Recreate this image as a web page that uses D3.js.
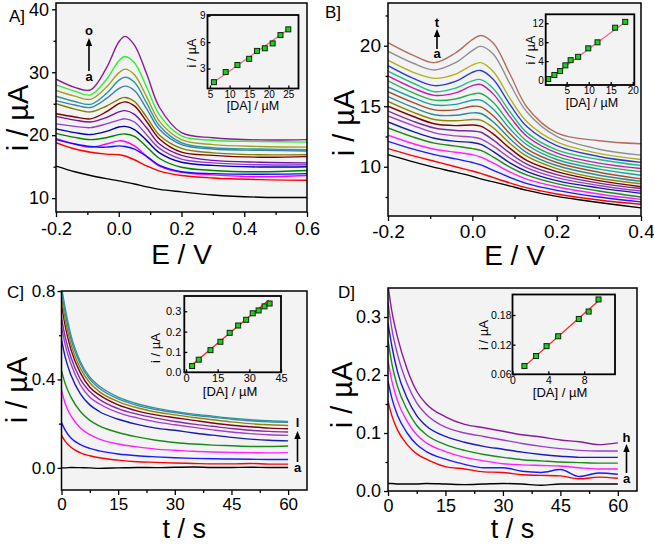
<!DOCTYPE html>
<html><head><meta charset="utf-8">
<script src="https://cdn.jsdelivr.net/npm/d3@7"></script>
<style>body{margin:0;background:#fff}svg{display:block}text{font-family:"Liberation Sans",Arial,sans-serif}</style>
</head><body><svg id="c" width="654" height="545"></svg>
<script>
// ---------------- Panel A (DPV) ----------------
const aPotential = [-0.2,-0.14,-0.09,-0.04,0.0,0.02,0.05,0.09,0.13,0.2,0.3,0.45,0.6];
const aColors = ['#000000','#ff0000','#ff00ff','#1010ff','#008000','#0000b0','#9040d0','#7a10a0','#800000','#808000','#3f7fb0','#2a9a9a','#a0a020','#30f030','#8a1a9a'];
const aCurrents = [
  [15.1,14.2,13.6,13.1,12.75,12.55,12.25,11.8,11.4,11.0,10.5,10.15,10.1],
  [18.8,17.8,17.3,17.0,16.9,16.7,16.1,15.1,14.3,13.6,13.2,12.95,12.85],
  [19.5,18.6,18.1,18.6,19.1,19.0,18.3,16.6,15.1,14.1,13.7,13.4,13.6],
  [19.3,18.6,18.2,18.1,18.3,18.2,17.8,16.6,15.2,14.2,13.9,13.8,13.9],
  [20.3,19.65,19.3,19.6,20.1,20.2,19.8,18.1,16.3,14.9,14.4,14.2,14.4],
  [21.0,20.4,20.1,20.6,21.3,21.4,20.9,19.1,17.2,15.7,15.2,14.95,15.0],
  [21.8,21.4,21.2,21.8,22.4,22.6,22.1,20.0,17.9,16.2,15.6,15.3,15.3],
  [23.0,22.4,22.1,22.8,23.7,23.9,23.3,21.1,18.6,16.8,16.0,15.7,15.6],
  [23.4,22.9,22.6,23.7,25.0,25.3,24.65,22.1,19.4,17.3,16.8,16.5,16.6],
  [25.0,24.15,23.7,24.6,25.7,26.0,25.35,22.8,20.0,17.9,17.2,16.9,16.9],
  [25.5,24.8,24.4,25.8,27.4,27.8,27.1,24.1,20.9,18.5,17.8,17.6,17.5],
  [26.2,25.35,24.9,26.6,28.7,29.2,28.4,25.0,21.5,18.8,18.0,17.8,17.7],
  [27.1,26.2,25.7,27.6,29.9,30.5,29.6,26.0,22.2,19.3,18.5,18.2,18.1],
  [28.0,27.0,26.4,28.8,31.8,32.5,31.5,27.5,23.2,19.9,19.2,19.0,18.9],
  [28.9,27.6,27.2,30.6,34.8,35.7,34.3,29.6,24.4,20.4,19.6,19.25,19.3]
];
const aTicksX = [-0.2,0,0.2,0.4,0.6], aMinorX = [-0.1,0.1,0.3,0.5];
const aTicksY = [10,20,30,40], aMinorY = [15,25,35];
const aInsetConc = [6,9,12,15,17,19,21,23,25];
const aInsetI = [1.45,2.6,3.4,4.1,5.0,5.3,5.85,6.8,7.45];
const aFitConc = [5.6,25.4], aFitI = [1.32,7.58];
const aInsetTicksX = [5,10,15,20,25], aInsetTicksY = [3,6,9];

// ---------------- Panel B (DPV) ----------------
const bPotential = [-0.2,-0.14,-0.09,-0.04,0.0,0.02,0.05,0.09,0.13,0.2,0.3,0.4];
const bColors = ['#000000','#ff0000','#1a1aff','#ff20ff','#1a8a1a','#1a1aa0','#a040c8','#7a2a9a','#800000','#8a8a00','#2a8a9a','#a0502a','#1aa0a0','#20b050','#c020b0','#20c080','#2a40d0','#b0b020','#909090','#b07060'];
const bCurrents = [
  [11.0,10.4,9.95,9.55,9.2,9.0,8.75,8.4,8.05,7.55,7.05,6.6],
  [11.5,10.9,10.45,10.0,9.65,9.45,9.1,8.65,8.25,7.75,7.25,6.9],
  [12.1,11.45,11.0,10.65,10.35,10.15,9.7,9.1,8.6,8.05,7.5,7.1],
  [12.6,11.9,11.45,11.2,11.0,10.8,10.3,9.55,8.95,8.35,7.75,7.3],
  [13.2,12.45,11.95,11.7,11.5,11.35,10.8,9.95,9.3,8.6,8.0,7.5],
  [13.7,12.9,12.35,12.1,12.0,11.85,11.25,10.3,9.6,8.85,8.25,7.8],
  [14.2,13.4,12.8,12.55,12.45,12.3,11.7,10.7,9.9,9.1,8.45,8.0],
  [14.6,13.75,13.2,13.0,12.95,12.85,12.2,11.1,10.2,9.35,8.65,8.2],
  [15.0,14.15,13.55,13.4,13.45,13.35,12.7,11.5,10.5,9.6,8.85,8.35],
  [15.4,14.5,13.9,13.8,13.9,13.85,13.2,11.9,10.85,9.85,9.05,8.6],
  [15.8,14.9,14.3,14.25,14.45,14.4,13.7,12.3,11.15,10.1,9.3,8.8],
  [16.2,15.3,14.7,14.7,15.0,14.95,14.2,12.7,11.45,10.35,9.55,9.0],
  [16.6,15.7,15.1,15.15,15.5,15.5,14.75,13.1,11.8,10.6,9.8,9.3],
  [17.1,16.1,15.5,15.6,16.0,16.05,15.3,13.55,12.1,10.85,10.05,9.6],
  [17.5,16.5,15.9,16.1,16.7,16.8,16.0,14.1,12.5,11.15,10.3,9.86],
  [17.9,16.9,16.2,16.5,17.1,17.2,16.45,14.5,12.8,11.4,10.6,10.1],
  [18.35,17.3,16.7,17.05,17.8,17.95,17.2,15.1,13.3,11.75,10.85,10.36],
  [18.8,17.8,17.3,17.65,18.4,18.6,17.85,15.6,13.7,12.05,11.1,10.6],
  [19.55,18.55,18.0,18.6,19.6,19.95,19.3,16.8,14.5,12.5,11.45,10.96],
  [20.25,19.2,18.6,19.4,20.5,20.85,20.2,17.6,14.9,12.8,12.15,11.9]
];
const bTicksX = [-0.2,0,0.2,0.4], bMinorX = [-0.1,0.1,0.3];
const bTicksY = [10,15,20], bMinorY = [7.5,12.5,17.5,22.5];
const bInsetConc = [0.8,2.2,3.5,4.7,5.9,7.6,9.9,12,16,18.3];
const bInsetI = [0.2,1.06,1.9,3.1,4.2,4.9,6.7,7.97,11.06,12.3];
const bFitConc = [0.5,18.6], bFitI = [0.0,12.5];
const bInsetTicksX = [5,10,15,20], bInsetTicksY = [0,4,8,12];

// ---------------- Panel C (amperometry) ----------------
const cTime = [0,1,2.5,5,7.5,10,15,20,25,30,35,40,45,50,55,60];
const cColors = ['#000000','#ff0000','#1a1aff','#ff20ff','#1a8a1a','#1a1ab0','#a040d0','#8a2aa0','#800020','#8a8a00','#4a80b0','#2a9a9a'];
const cCurrents = [
  [0.0,0.0,0.002,0.001,0.0,-0.002,0.0,0.002,0.001,0.003,0.004,0.002,0.002,0.003,0.002,0.002],
  [0.147,0.12,0.093,0.068,0.055,0.046,0.035,0.028,0.025,0.022,0.02,0.018,0.018,0.02,0.017,0.017],
  [0.205,0.17,0.135,0.105,0.088,0.077,0.063,0.055,0.05,0.046,0.043,0.041,0.04,0.039,0.038,0.038],
  [0.35,0.29,0.235,0.18,0.15,0.13,0.108,0.095,0.085,0.08,0.075,0.072,0.07,0.069,0.068,0.069],
  [0.44,0.38,0.32,0.255,0.215,0.19,0.16,0.14,0.125,0.115,0.108,0.103,0.1,0.097,0.097,0.099],
  [0.58,0.50,0.42,0.335,0.285,0.255,0.22,0.197,0.18,0.17,0.158,0.148,0.138,0.13,0.125,0.122],
  [0.64,0.555,0.47,0.375,0.32,0.29,0.25,0.226,0.208,0.195,0.183,0.172,0.162,0.155,0.15,0.147],
  [0.68,0.59,0.50,0.40,0.345,0.31,0.268,0.243,0.225,0.21,0.198,0.188,0.178,0.17,0.165,0.162],
  [0.74,0.64,0.535,0.43,0.365,0.33,0.285,0.258,0.24,0.227,0.215,0.203,0.193,0.186,0.18,0.177],
  [0.77,0.67,0.56,0.45,0.385,0.345,0.30,0.272,0.253,0.24,0.228,0.218,0.208,0.2,0.195,0.192],
  [0.80,0.70,0.585,0.47,0.40,0.36,0.312,0.283,0.264,0.25,0.238,0.229,0.22,0.213,0.208,0.206],
  [0.82,0.72,0.60,0.48,0.41,0.37,0.32,0.29,0.27,0.255,0.243,0.234,0.225,0.218,0.213,0.21]
];
const cTicksX = [0,15,30,45,60], cMinorX = [7.5,22.5,37.5,52.5];
const cTicksY = [0,0.4,0.8], cMinorY = [0.2,0.6];
const cInsetConc = [2.9,6.05,11.6,16.3,20.7,24.7,28.5,31.6,34.4,37.2,39.6];
const cInsetI = [0.031,0.062,0.109,0.15,0.194,0.23,0.258,0.29,0.304,0.324,0.338];
const cFitConc = [1.8,39.2], cFitI = [0.027,0.355];
const cInsetTicksX = [0,15,30,45], cInsetTicksY = [0,0.1,0.2,0.3];

// ---------------- Panel D (amperometry) ----------------
const dTime = [0,1,2.5,5,7.5,10,15,20,25,30,35,40,45,50,55,60];
const dColors = ['#000000','#ff0000','#1a1aff','#ff20ff','#1a8a1a','#1a1ac0','#9a40c8','#8a1a9a'];
const dCurrents = [
  [0.013,0.013,0.012,0.012,0.012,0.013,0.012,0.011,0.012,0.013,0.012,0.01,0.012,0.012,0.012,0.012],
  [0.155,0.13,0.105,0.08,0.064,0.055,0.042,0.038,0.033,0.032,0.028,0.027,0.026,0.021,0.024,0.022],
  [0.19,0.16,0.13,0.1,0.08,0.068,0.055,0.046,0.04,0.04,0.034,0.032,0.037,0.025,0.031,0.029],
  [0.225,0.19,0.155,0.12,0.097,0.083,0.068,0.058,0.052,0.047,0.045,0.044,0.043,0.04,0.038,0.038],
  [0.26,0.22,0.18,0.14,0.113,0.097,0.08,0.07,0.063,0.058,0.054,0.052,0.05,0.049,0.048,0.048],
  [0.29,0.25,0.205,0.16,0.13,0.112,0.094,0.084,0.077,0.072,0.067,0.063,0.06,0.058,0.058,0.058],
  [0.325,0.28,0.235,0.185,0.152,0.132,0.11,0.1,0.094,0.088,0.082,0.077,0.073,0.07,0.069,0.069],
  [0.355,0.31,0.265,0.21,0.172,0.15,0.128,0.115,0.109,0.103,0.097,0.093,0.088,0.085,0.08,0.083]
];
const dTicksX = [0,15,30,45,60], dMinorX = [7.5,22.5,37.5,52.5];
const dTicksY = [0,0.1,0.2,0.3], dMinorY = [0.05,0.15,0.25];
const dInsetConc = [1.33,2.63,3.8,5.1,7.4,8.5,9.6];
const dInsetI = [0.0768,0.097,0.117,0.137,0.172,0.187,0.2115];
const dFitConc = [1.2,9.8], dFitI = [0.074,0.212];
const dInsetTicksX = [0,4,8], dInsetTicksY = [0.06,0.12,0.18];

// ---------------- drawing ----------------
const svg = d3.select('#c');
const defs = svg.append('defs');
const BG = '#f3f3f3';

function styleAxis(sel, fs) {
  sel.select('.domain').remove();
  sel.selectAll('.tick line').attr('stroke','#000').attr('stroke-width',1.3);
  sel.selectAll('.tick text').attr('fill','#000').style('font-size',fs+'px')
     .style('font-family','"Liberation Sans", Arial, sans-serif');
}

function mainPanel(p) {
  const x = d3.scaleLinear().domain(p.xd).range([p.L, p.R]);
  const y = d3.scaleLinear().domain(p.yd).range([p.B, p.T]);
  const g = svg.append('g');
  g.append('rect').attr('x',p.L).attr('y',p.T).attr('width',p.R-p.L).attr('height',p.B-p.T).attr('fill',BG);
  const cid = 'clip' + p.id;
  defs.append('clipPath').attr('id',cid).append('rect')
    .attr('x',p.L).attr('y',p.T).attr('width',p.R-p.L).attr('height',p.B-p.T);
  const line = d3.line().x((d,i)=>x(p.xs[i])).y(d=>y(d)).curve(p.curve);
  const cg = g.append('g').attr('clip-path',`url(#${cid})`);
  p.series.forEach((s,k)=>cg.append('path').attr('d',line(s)).attr('fill','none')
     .attr('stroke',p.colors[k]).attr('stroke-width',1.4));
  const ax = g.append('g').attr('transform',`translate(0,${p.B})`)
     .call(d3.axisBottom(x).tickValues(p.xt).tickFormat(p.xf).tickSizeInner(5).tickSizeOuter(0).tickPadding(p.xpad));
  styleAxis(ax, p.fs);
  const axm = g.append('g').attr('transform',`translate(0,${p.B})`)
     .call(d3.axisBottom(x).tickValues(p.xm).tickFormat('').tickSizeInner(3).tickSizeOuter(0));
  styleAxis(axm, p.fs);
  const ay = g.append('g').attr('transform',`translate(${p.L},0)`)
     .call(d3.axisLeft(y).tickValues(p.yt).tickFormat(p.yf).tickSizeInner(4).tickSizeOuter(0).tickPadding(p.ypad));
  styleAxis(ay, p.fs);
  const aym = g.append('g').attr('transform',`translate(${p.L},0)`)
     .call(d3.axisLeft(y).tickValues(p.ym).tickFormat('').tickSizeInner(2.5).tickSizeOuter(0));
  styleAxis(aym, p.fs);
  g.append('rect').attr('x',p.L).attr('y',p.T).attr('width',p.R-p.L).attr('height',p.B-p.T)
    .attr('fill','none').attr('stroke','#000').attr('stroke-width',1.5);
  g.append('text').attr('x',(p.L+p.R)/2).attr('y',p.xtY).attr('text-anchor','middle')
    .style('font-size',p.tfs+'px').text(p.xTitle);
  g.append('text').attr('transform',`translate(${p.ytX},${p.ytY}) rotate(-90)`).attr('text-anchor','middle')
    .style('font-size',p.yfs+'px').text('i / µA');
  g.append('text').attr('x',p.lx).attr('y',p.ly).style('font-size','17px').text(p.label);
  const ar = p.arrow;
  g.append('line').attr('x1',ar.x).attr('x2',ar.x).attr('y1',ar.y2).attr('y2',ar.y1+5)
    .attr('stroke','#000').attr('stroke-width',1.6);
  g.append('path').attr('d',`M${ar.x},${ar.y1} L${ar.x-3.2},${ar.y1+8} L${ar.x+3.2},${ar.y1+8} Z`).attr('fill','#000');
  g.append('text').attr('x',ar.x).attr('y',ar.topY).attr('text-anchor','middle')
    .style('font-size','13px').style('font-weight','bold').text(ar.top);
  g.append('text').attr('x',ar.x).attr('y',ar.botY).attr('text-anchor','middle')
    .style('font-size','13px').style('font-weight','bold').text('a');
}

function inset(p) {
  const x = d3.scaleLinear().domain(p.xd).range([p.L, p.R]);
  const y = d3.scaleLinear().domain(p.yd).range([p.B, p.T]);
  const g = svg.append('g');
  g.append('rect').attr('x',p.L).attr('y',p.T).attr('width',p.R-p.L).attr('height',p.B-p.T).attr('fill',BG);
  const ax = g.append('g').attr('transform',`translate(0,${p.B})`)
     .call(d3.axisBottom(x).tickValues(p.xt).tickFormat(d3.format('d')).tickSizeInner(-3).tickSizeOuter(0).tickPadding(2));
  styleAxis(ax, p.fs);
  const ay = g.append('g').attr('transform',`translate(${p.L},0)`)
     .call(d3.axisLeft(y).tickValues(p.yt).tickFormat(p.yf).tickSizeInner(-3).tickSizeOuter(0).tickPadding(p.ypad));
  styleAxis(ay, p.fs);
  const line = d3.line().x((d,i)=>x(p.fx[i])).y(d=>y(d));
  g.append('path').attr('d',line(p.fy)).attr('stroke',p.lineColor).attr('stroke-width',1.3).attr('fill','none');
  g.selectAll(null).data(p.py).join('rect')
    .attr('x',(d,i)=>x(p.px[i])-2.5).attr('y',d=>y(d)-2.5).attr('width',5).attr('height',5)
    .attr('fill','#22cc22').attr('stroke','#0a2a0a').attr('stroke-width',1);
  g.append('rect').attr('x',p.L).attr('y',p.T).attr('width',p.R-p.L).attr('height',p.B-p.T)
    .attr('fill','none').attr('stroke','#000').attr('stroke-width',1.8);
  g.append('text').attr('x',p.xtX).attr('y',p.xtY).attr('text-anchor','middle')
    .style('font-size',p.tfs+'px').text('[DA] / µM');
  g.append('text').attr('transform',`translate(${p.ytX},${p.ytY}) rotate(-90)`).attr('text-anchor','middle')
    .style('font-size',p.tfs+'px').text('i / µA');
}

const f1 = d => d.toFixed(1), f0 = d => d.toFixed(0), f2 = d => d.toFixed(2);
const cr = d3.curveCatmullRom.alpha(0.5), mono = d3.curveMonotoneX;

mainPanel({id:'A', L:56, R:307, T:3, B:212, xd:[-0.2,0.6], yd:[7.8,41.0],
  xs:aPotential, series:aCurrents, colors:aColors, curve:cr,
  xt:aTicksX, xm:aMinorX, yt:aTicksY, ym:aMinorY, xf:f1, yf:f0, xpad:5, ypad:3, fs:18,
  xTitle:'E / V', xtY:264, ytX:28, ytY:118, tfs:28, yfs:29, label:'A]', lx:9, ly:22,
  arrow:{x:89, y1:38, y2:71, top:'o', topY:35, botY:81}});
inset({L:207.5, R:298.5, T:15, B:88.5, xd:[4.36,27.6], yd:[0.73,9.08],
  px:aInsetConc, py:aInsetI, fx:aFitConc, fy:aFitI, lineColor:'#f06a8a',
  xt:aInsetTicksX, yt:aInsetTicksY, yf:f0, ypad:2, fs:10,
  xtX:253, xtY:110, ytX:196, ytY:53, tfs:12.5});

mainPanel({id:'B', L:388, R:641, T:3, B:216, xd:[-0.2,0.4], yd:[5.93,23.53],
  xs:bPotential, series:bCurrents, colors:bColors, curve:cr,
  xt:bTicksX, xm:bMinorX, yt:bTicksY, ym:bMinorY, xf:f1, yf:f0, xpad:4, ypad:3, fs:19,
  xTitle:'E / V', xtY:265, ytX:354, ytY:123, tfs:28, yfs:29, label:'B]', lx:325, ly:18,
  arrow:{x:437, y1:29, y2:49, top:'t', topY:27, botY:58}});
inset({L:545.7, R:634.3, T:14.3, B:85, xd:[0.23,20.36], yd:[-1.06,13.9],
  px:bInsetConc, py:bInsetI, fx:bFitConc, fy:bFitI, lineColor:'#f06a8a',
  xt:bInsetTicksX, yt:bInsetTicksY, yf:f0, ypad:2, fs:10,
  xtX:592, xtY:107, ytX:535, ytY:50, tfs:12.5});

mainPanel({id:'C', L:61.5, R:307, T:291, B:490, xd:[0,65], yd:[-0.1,0.8],
  xs:cTime, series:cCurrents, colors:cColors, curve:mono,
  xt:cTicksX, xm:cMinorX, yt:cTicksY, ym:cMinorY, xf:f0, yf:f1, xpad:3, ypad:2, fs:17,
  xTitle:'t / s', xtY:538, ytX:27, ytY:390, tfs:27, yfs:29, label:'C]', lx:7, ly:298,
  arrow:{x:297.5, y1:431, y2:462, top:'l', topY:427, botY:472}});
inset({L:184.3, R:281, T:296, B:372.3, xd:[-0.8,45], yd:[0,0.375],
  px:cInsetConc, py:cInsetI, fx:cFitConc, fy:cFitI, lineColor:'#ff2020',
  xt:cInsetTicksX, yt:cInsetTicksY, yf:f1, ypad:3, fs:11,
  xtX:230, xtY:396, ytX:160, ytY:348, tfs:13});

mainPanel({id:'D', L:388, R:637, T:288, B:491, xd:[0,65], yd:[0,0.35],
  xs:dTime, series:dCurrents, colors:dColors, curve:mono,
  xt:dTicksX, xm:dMinorX, yt:dTicksY, ym:dMinorY, xf:f0, yf:f1, xpad:3, ypad:3, fs:18,
  xTitle:'t / s', xtY:538, ytX:352, ytY:395, tfs:27, yfs:29, label:'D]', lx:338, ly:298,
  arrow:{x:626.5, y1:444, y2:473, top:'h', topY:442, botY:483}});
inset({L:512.5, R:615, T:294.5, B:374.3, xd:[0,11.44], yd:[0.06,0.2215],
  px:dInsetConc, py:dInsetI, fx:dFitConc, fy:dFitI, lineColor:'#ff2020',
  xt:dInsetTicksX, yt:dInsetTicksY, yf:f2, ypad:1, fs:10.5,
  xtX:560, xtY:397, ytX:488, ytY:335, tfs:13});
</script></body></html>
